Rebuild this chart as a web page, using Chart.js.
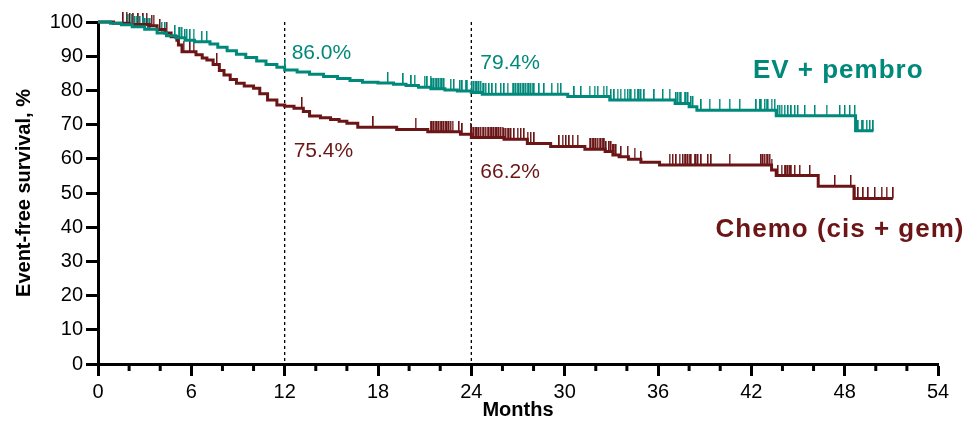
<!DOCTYPE html>
<html>
<head>
<meta charset="utf-8">
<script src="https://cdn.jsdelivr.net/npm/chart.js@4.4.1/dist/chart.umd.min.js"></script>
<style>
  html, body { margin: 0; padding: 0; background: #fff; }
  #efs { display: block; }
</style>
</head>
<body>
<canvas id="efs" width="966" height="424"></canvas>
<script>
// Event-free survival, EV + pembro vs chemo (cis + gem)

const TEAL = '#00897b';
const MAROON = '#6b1517';

// Kaplan-Meier steps (months, %)
const evTimes = [0, 0.8, 1.5, 2.2, 3.0, 3.8, 4.4, 5.0, 5.6, 6.2, 7.2, 7.7, 8.3, 8.9, 9.5, 10.2, 10.8, 11.5, 12.0,
  12.8, 13.6, 14.5, 15.4, 16.2, 17.0, 18.0, 19.0, 19.8, 20.6, 21.4, 22.3, 23.1, 24.0, 24.7, 30.2, 32.9, 37.1,
  38.0, 38.5, 43.6, 48.7, 49.85];
const evSurv = [100, 99.6, 99.2, 98.6, 97.9, 96.8, 96.0, 95.4, 94.7, 94.2, 93.6, 92.6, 91.6, 90.6, 89.6, 88.6, 87.6, 86.8, 86.0,
  85.4, 84.7, 84.1, 83.5, 82.9, 82.4, 82.2, 81.8, 81.4, 80.9, 80.5, 80.1, 79.8, 79.4, 78.9, 78.2, 77.2, 76.2,
  75.2, 74.2, 72.6, 68.2, 68.2];

const chemoTimes = [0, 1.0, 2.0, 3.3, 3.8, 4.3, 4.7, 5.07, 5.17, 5.4, 6.3, 6.7, 7.0, 7.4, 7.8, 8.1, 8.5, 8.9, 9.4, 10.0,
  10.4, 10.9, 11.5, 12.0, 12.6, 13.2, 13.6, 14.3, 14.95, 15.5, 16.0, 16.7, 19.2, 21.2, 23.3, 24.0, 26.1, 27.6,
  29.1, 31.3, 32.6, 33.1, 33.5, 34.1, 34.9, 36.1, 43.3, 43.6, 46.3, 48.6, 51.1];
const chemoSurv = [100, 99.6, 99.3, 98.9, 97.8, 96.8, 95.7, 94.7, 93.3, 91.3, 90.4, 89.5, 88.9, 87.6, 85.8, 84.5, 83.2, 82.1, 81.3, 80.6,
  79.0, 77.2, 75.7, 75.4, 74.8, 73.8, 72.5, 72.0, 71.5, 71.0, 70.4, 69.2, 68.6, 67.9, 67.2, 66.2, 65.7, 64.5,
  63.6, 62.8, 62.1, 61.1, 60.6, 59.9, 59.0, 58.2, 56.7, 55.1, 52.0, 48.4, 48.4];

// censored patients (months)
const evCensor = [1.95, 2.17, 2.38, 2.49, 2.71, 2.92, 3.03, 3.24, 3.35, 4.1, 4.32, 4.96, 5.18, 5.28, 5.39, 5.6, 5.71, 5.93,
  6.14, 6.68, 7.0, 12.05, 18.64, 19.63, 20.15, 20.36, 21.0, 21.18, 21.39, 21.5, 21.61, 21.71, 21.82, 21.93, 22.03,
  22.14, 22.25, 22.68, 22.89, 23.28, 23.43, 23.64, 23.75, 24.07, 24.18, 24.29, 24.39, 24.5, 24.61, 24.72, 24.82,
  24.93, 25.15, 25.36, 25.58, 25.9, 26.12, 26.33, 26.65, 26.76, 26.87, 26.98, 27.08, 27.19, 27.3, 27.4, 27.51,
  27.62, 27.73, 27.83, 27.94, 28.05, 28.37, 28.69, 29.17, 29.55, 29.77, 30.63, 31.06, 31.6, 31.92, 32.13, 32.5,
  32.7, 32.99, 33.2, 33.4, 33.6, 33.85, 34.06, 34.17, 34.28, 34.5, 34.7, 34.8, 34.9, 35.13, 35.77, 36.32, 36.75,
  37.18, 37.28, 37.39, 37.5, 37.71, 37.82, 37.93, 38.14, 38.25, 38.79, 39.32, 39.97, 40.61, 41.26, 42.33, 42.55,
  42.65, 42.87, 42.98, 43.08, 43.3, 43.51, 43.72, 43.83, 43.94, 44.15, 44.37, 44.58, 44.8, 45.0, 45.45, 46.09,
  46.84, 47.7, 48.02, 48.34, 48.66, 48.88, 49.1, 49.2, 49.42, 49.63, 49.85];
const chemoCensor = [1.63, 1.85, 2.06, 2.28, 2.6, 2.92, 3.14, 3.46, 3.57, 3.99, 4.42, 5.5, 5.93, 6.14, 7.65, 13.12, 17.7,
  20.42, 21.39, 21.5, 21.61, 21.71, 21.82, 21.93, 22.03, 22.14, 22.25, 22.36, 22.46, 22.57, 22.68, 22.79, 23.22,
  23.43, 23.97, 24.07, 24.18, 24.29, 24.39, 24.5, 24.61, 24.72, 24.82, 24.93, 25.04, 25.15, 25.25, 25.36, 25.47,
  25.58, 25.68, 25.79, 25.9, 26.01, 26.12, 26.22, 26.33, 26.44, 26.55, 26.76, 26.98, 27.19, 27.4, 27.62, 27.83,
  28.05, 29.66, 29.87, 30.09, 30.3, 30.52, 30.84, 31.6, 31.7, 31.81, 31.91, 32.02, 32.13, 32.24, 32.35, 32.45,
  32.56, 32.67, 32.88, 32.99, 33.1, 33.2, 33.31, 33.63, 34.06, 34.49, 34.92, 36.75, 36.96, 37.18, 37.39, 37.61,
  37.71, 37.82, 37.93, 38.04, 38.14, 38.36, 38.46, 38.57, 38.79, 39.22, 39.43, 40.61, 42.65, 42.76, 42.87, 42.98,
  43.08, 43.19, 43.3, 43.72, 43.94, 44.15, 44.26, 44.37, 44.48, 44.58, 44.8, 45.12, 45.77, 47.38, 48.41, 48.66,
  48.88, 49.2, 49.52, 49.95, 50.38, 50.7, 51.13];

const milestoneMonths = [12, 24];
const evMilestones = ['86.0%', '79.4%'];
const chemoMilestones = ['75.4%', '66.2%'];
const armNames = ['EV + pembro', 'Chemo (cis + gem)'];

const xTicks = [0, 6, 12, 18, 24, 30, 36, 42, 48, 54];
const xMinorTicks = [2, 4, 8, 10, 14, 16, 20, 22, 26, 28, 32, 34, 38, 40, 44, 46, 50, 52];

const FONT = "'Liberation Sans', Arial, sans-serif";

function survivalAt(times, surv, t) {
  let s = surv[0];
  for (let i = 0; i < times.length; i++) {
    if (times[i] <= t) s = surv[i]; else break;
  }
  return s;
}

function stepPoints(times, surv) {
  return times.map((t, i) => ({ x: t, y: surv[i] }));
}

function censorPoints(times, surv, cens) {
  return cens.map(t => ({ x: t, y: survivalAt(times, surv, t) }));
}

// thin upward tick used as the censor mark (about 1.5 px wide)
function censorMark(color) {
  const c = document.createElement('canvas');
  c.width = 2;
  c.height = 22;
  const g = c.getContext('2d');
  g.fillStyle = color;
  g.fillRect(0, 0, 1, 11);
  g.globalAlpha = 0.5;
  g.fillRect(1, 0, 1, 11);
  return c;
}

const overlayPlugin = {
  id: 'overlay',
  beforeDatasetsDraw(chart) {
    const { ctx, chartArea, scales: { x } } = chart;
    ctx.save();
    ctx.strokeStyle = '#000';
    ctx.lineWidth = 1.3;
    ctx.setLineDash([3, 3]);
    milestoneMonths.forEach(m => {
      const px = x.getPixelForValue(m);
      ctx.beginPath();
      ctx.moveTo(px, chartArea.top);
      ctx.lineTo(px, chartArea.bottom);
      ctx.stroke();
    });
    ctx.restore();
  },
  afterDraw(chart) {
    const { ctx, chartArea, scales: { x, y } } = chart;
    ctx.save();
    // minor ticks on the month axis
    ctx.strokeStyle = '#000';
    ctx.lineWidth = 3;
    xMinorTicks.forEach(m => {
      const px = x.getPixelForValue(m);
      ctx.beginPath();
      ctx.moveTo(px, chartArea.bottom);
      ctx.lineTo(px, chartArea.bottom + 7);
      ctx.stroke();
    });

    // milestone values
    ctx.textAlign = 'left';
    ctx.textBaseline = 'alphabetic';
    ctx.font = '21px ' + FONT;
    ctx.fillStyle = TEAL;
    ctx.fillText(evMilestones[0], x.getPixelForValue(milestoneMonths[0]) + 7, y.getPixelForValue(89.3));
    ctx.fillText(evMilestones[1], x.getPixelForValue(milestoneMonths[1]) + 9, y.getPixelForValue(86.4));
    ctx.fillStyle = MAROON;
    ctx.fillText(chemoMilestones[0], x.getPixelForValue(milestoneMonths[0]) + 9, y.getPixelForValue(60.6));
    ctx.fillText(chemoMilestones[1], x.getPixelForValue(milestoneMonths[1]) + 9, y.getPixelForValue(54.3));

    // arm names
    ctx.font = 'bold 26px ' + FONT;
    ctx.letterSpacing = '1px';
    ctx.fillStyle = TEAL;
    ctx.fillText(armNames[0], x.getPixelForValue(42.1), y.getPixelForValue(83.5));
    ctx.fillStyle = MAROON;
    ctx.fillText(armNames[1], x.getPixelForValue(39.7), y.getPixelForValue(37.0));
    ctx.restore();
  }
};

new Chart(document.getElementById('efs'), {
  type: 'scatter',
  data: {
    datasets: [
      {
        label: armNames[0],
        data: stepPoints(evTimes, evSurv),
        showLine: true,
        stepped: true,
        borderColor: TEAL,
        borderWidth: 3,
        pointRadius: 0,
        clip: false
      },
      {
        label: armNames[1],
        data: stepPoints(chemoTimes, chemoSurv),
        showLine: true,
        stepped: true,
        borderColor: MAROON,
        borderWidth: 3,
        pointRadius: 0,
        clip: false
      },
      {
        label: 'EV censored',
        data: censorPoints(evTimes, evSurv, evCensor),
        pointStyle: censorMark(TEAL),
        pointRadius: 5,
        clip: false
      },
      {
        label: 'Chemo censored',
        data: censorPoints(chemoTimes, chemoSurv, chemoCensor),
        pointStyle: censorMark(MAROON),
        pointRadius: 5,
        clip: false
      }
    ]
  },
  options: {
    responsive: false,
    animation: false,
    events: [],
    layout: { padding: { top: 22, right: 28, left: 0, bottom: 0 } },
    plugins: {
      legend: { display: false },
      tooltip: { enabled: false }
    },
    scales: {
      x: {
        type: 'linear',
        min: 0,
        max: 54,
        afterBuildTicks: scale => { scale.ticks = xTicks.map(v => ({ value: v })); },
        afterFit: scale => { scale.height = 60; },
        grid: { drawOnChartArea: false, drawTicks: true, tickLength: 12, tickWidth: 3, tickColor: '#000' },
        border: { color: '#000', width: 3 },
        ticks: { color: '#000', padding: 4, maxRotation: 0, font: { family: FONT, size: 20 } },
        title: {
          display: true,
          text: 'Months',
          color: '#000',
          padding: { top: 0, bottom: 2 },
          font: { family: FONT, size: 20, weight: 'bold' }
        }
      },
      y: {
        type: 'linear',
        min: 0,
        max: 100,
        ticks: { stepSize: 10, color: '#000', padding: 3, font: { family: FONT, size: 20 } },
        afterFit: scale => { scale.width = 98; },
        grid: { drawOnChartArea: false, drawTicks: true, tickLength: 12, tickWidth: 3, tickColor: '#000' },
        border: { color: '#000', width: 3 },
        title: {
          display: true,
          text: 'Event-free survival, %',
          color: '#000',
          padding: { top: 12, bottom: 0 },
          font: { family: FONT, size: 20, weight: 'bold' }
        }
      }
    }
  },
  plugins: [overlayPlugin]
});
</script>
</body>
</html>
